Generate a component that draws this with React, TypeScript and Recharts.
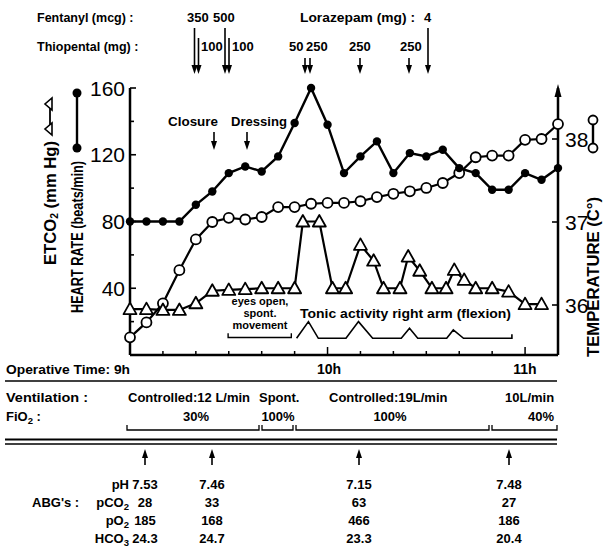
import React from 'react';
import { ComposedChart, Line, XAxis, YAxis } from 'recharts';

const FONT = "'Liberation Sans', Arial, Helvetica, sans-serif";

// minutes after 9h
const hrTimes = [0, 5, 10, 15, 20, 25, 30, 35, 40, 45, 50, 55, 60, 65, 70, 75, 80, 85, 90, 95, 100, 105, 110, 115, 120, 125, 130];
const heartRate = [80, 80, 80, 80, 90, 98, 109, 113, 110, 119, 139, 160, 138, 109, 119, 128, 109, 121, 119, 123, 112, 109, 99, 99, 109, 105, 112];

const tempTimes = [0, 5, 10, 15, 20, 25, 30, 35, 40, 45, 50, 55, 60, 65, 70, 75, 80, 85, 90, 95, 100, 105, 110, 115, 120, 125, 130];
const temperature = [35.61, 35.79, 36.02, 36.42, 36.79, 37.0, 37.05, 37.03, 37.06, 37.18, 37.18, 37.22, 37.23, 37.23, 37.25, 37.3, 37.34, 37.37, 37.41, 37.47, 37.59, 37.78, 37.8, 37.8, 37.99, 38.0, 38.18];

const etco2Times = [0, 5, 10, 15, 20, 25, 30, 35, 40, 45, 50, 52.5, 57.5, 61.5, 65.5, 70, 74, 77, 82, 84.5, 88, 91.7, 96, 98.5, 101.5, 105, 110, 115, 120, 125];
const etco2 = [27.5, 27.5, 27, 27, 31, 38.5, 39, 39.5, 40, 40, 40, 80, 80, 40, 40, 66, 56.5, 40, 40, 59, 50.5, 40, 40, 51, 45, 40, 40, 38, 30.5, 30.5];

// schematic of tonic activity (left axis units)
const tonicTimes = [50.6, 54.2, 57.2, 65.6, 69.4, 73.7, 82.4, 84.9, 87.4, 96.2, 98.2, 101.3, 116, 116];
const tonicLevel = [10, 20, 10, 10, 20, 10, 10, 16, 10, 10, 15, 10, 10, 12.5];
const eyesTimes = [29.8, 29.8, 49, 49];
const eyesLevel = [13, 10.5, 10.5, 13];

const timeTicks = [0, 5, 10, 15, 20, 25, 30, 35, 40, 45, 50, 55, 60, 65, 70, 75, 80, 85, 90, 95, 100, 105, 110, 115, 120, 125, 130];
const leftTicks = [20, 40, 60, 80, 100, 120, 140, 160];
const rightTicks = [36, 37, 38];

const ventilation = [
  { x: 128, text: 'Controlled:12 L/min' },
  { x: 259, text: 'Spont.' },
  { x: 329, text: 'Controlled:19L/min' },
  { x: 505, text: '10L/min' },
];
const fio2 = [
  { x: 196, text: '30%' },
  { x: 278, text: '100%' },
  { x: 390, text: '100%' },
  { x: 541, text: '40%' },
];
const brackets = [[127, 259], [262, 293], [296, 489], [492, 557]];
const abgX = [145, 212, 359, 509];
const ph = ['7.53', '7.46', '7.15', '7.48'];
const pco2 = ['28', '33', '63', '27'];
const po2 = ['185', '168', '466', '186'];
const hco3 = ['24.3', '24.7', '23.3', '20.4'];

const hrData = hrTimes.map((t, i) => ({ t, v: heartRate[i] }));
const tempData = tempTimes.map((t, i) => ({ t, v: temperature[i] }));
const etData = etco2Times.map((t, i) => ({ t, v: etco2[i] }));
const tonicData = tonicTimes.map((t, i) => ({ t, v: tonicLevel[i] }));
const eyesData = eyesTimes.map((t, i) => ({ t, v: eyesLevel[i] }));

const T = ({ x, y, children, anchor = 'start', size = 13, weight = 700, len }: any) => (
  <text
    x={x}
    y={y}
    textAnchor={anchor}
    fontSize={size}
    fontWeight={weight}
    fontFamily={FONT}
    fill="#000"
    textLength={len}
    lengthAdjust={len ? 'spacingAndGlyphs' : undefined}
  >
    {children}
  </text>
);

const Arrow = ({ x, y1, y2 }: any) => {
  const d = y2 > y1 ? 1 : -1;
  return (
    <g>
      <line x1={x} x2={x} y1={y1} y2={y2 - d * 7} stroke="#000" strokeWidth={1.6} />
      <polygon points={`${x},${y2} ${x - 3},${y2 - d * 9} ${x + 3},${y2 - d * 9}`} fill="#000" />
    </g>
  );
};

const Sub = ({ children }: any) => (
  <tspan fontSize={9.5} dy={3}>{children}</tspan>
);

const LeftTick = (props: any) => {
  const { x, y, payload } = props;
  const major = payload.value % 40 === 0;
  return (
    <g>
      <line x1={x} x2={x + (major ? 6 : 4)} y1={y} y2={y} stroke="#000" strokeWidth={1.6} />
      {major && (
        <text x={x - 5} y={y + 7.5} textAnchor="end" fontSize={21} fontFamily={FONT} fill="#000">
          {payload.value}
        </text>
      )}
    </g>
  );
};

const RightTick = (props: any) => {
  const { x, y, payload } = props;
  return (
    <g>
      <line x1={x - 6} x2={x} y1={y} y2={y} stroke="#000" strokeWidth={1.6} />
      <text x={x + 7} y={y + 7.5} textAnchor="start" fontSize={21} fontFamily={FONT} fill="#000">
        {payload.value}
      </text>
    </g>
  );
};

const TimeTick = (props: any) => {
  const { x, y, payload } = props;
  const hour = payload.value % 60 === 0;
  return <line x1={x} x2={x} y1={y} y2={y - (hour ? 8 : 4)} stroke="#000" strokeWidth={1.5} />;
};

const filledDot = (p: any) => (
  <circle key={`h${p.index}`} cx={p.cx} cy={p.cy} r={4.2} fill="#000" />
);
const openDot = (p: any) => (
  <circle key={`c${p.index}`} cx={p.cx} cy={p.cy} r={5} fill="#fff" stroke="#000" strokeWidth={1.8} />
);
const triDot = (p: any) => (
  <polygon
    key={`t${p.index}`}
    points={`${p.cx},${p.cy - 6.5} ${p.cx - 6.5},${p.cy + 5} ${p.cx + 6.5},${p.cy + 5}`}
    fill="#fff"
    stroke="#000"
    strokeWidth={1.8}
    strokeLinejoin="round"
  />
);

const VText = ({ cx, cy, len, children }: any) => (
  <g transform={`rotate(-90 ${cx} ${cy})`}>
    <text
      x={cx}
      y={cy}
      textAnchor="middle"
      dominantBaseline="central"
      fontSize={16}
      fontWeight={700}
      fontFamily={FONT}
      textLength={len}
      lengthAdjust="spacingAndGlyphs"
    >
      {children}
    </text>
  </g>
);

export default function App() {
  return (
    <div style={{ position: 'absolute', left: 0, top: 0, width: 609, height: 548, background: '#fff' }}>
      <ComposedChart width={609} height={548} margin={{ top: 88, right: 11, bottom: 163, left: 90 }}>
        <XAxis
          type="number"
          dataKey="t"
          domain={[0, 130]}
          ticks={timeTicks}
          tick={<TimeTick />}
          tickSize={0}
          tickMargin={0}
          tickLine={false}
          axisLine={{ stroke: '#000', strokeWidth: 2.5 }}
          height={30}
          allowDuplicatedCategory={false}
        />
        <YAxis
          yAxisId="left"
          type="number"
          domain={[0, 160]}
          ticks={leftTicks}
          tick={<LeftTick />}
          tickSize={0}
          tickMargin={0}
          tickLine={false}
          axisLine={{ stroke: '#000', strokeWidth: 2.5 }}
          width={40}
        />
        <YAxis
          yAxisId="right"
          orientation="right"
          type="number"
          domain={[35.3976, 38.6145]}
          ticks={rightTicks}
          tick={<RightTick />}
          tickSize={0}
          tickMargin={0}
          tickLine={false}
          axisLine={{ stroke: '#000', strokeWidth: 2.5 }}
          width={40}
        />
        <Line yAxisId="left" data={eyesData} dataKey="v" stroke="#000" strokeWidth={1.4} dot={false} isAnimationActive={false} />
        <Line yAxisId="left" data={tonicData} dataKey="v" stroke="#000" strokeWidth={1.6} dot={false} isAnimationActive={false} />
        <Line yAxisId="right" data={tempData} dataKey="v" stroke="#000" strokeWidth={2.2} dot={openDot} isAnimationActive={false} />
        <Line yAxisId="left" data={etData} dataKey="v" stroke="#000" strokeWidth={2.2} dot={triDot} isAnimationActive={false} />
        <Line yAxisId="left" data={hrData} dataKey="v" stroke="#000" strokeWidth={2.4} dot={filledDot} isAnimationActive={false} />
      </ComposedChart>

      <svg width={609} height={548} style={{ position: 'absolute', left: 0, top: 0, pointerEvents: 'none' }}>
        {/* drugs */}
        <T x={37} y={22} size={12.5}>Fentanyl (mcg) :</T>
        <T x={187} y={22} size={13}>350</T>
        <T x={213} y={22} size={13}>500</T>
        <T x={300} y={22} size={12.5} len={115}>Lorazepam (mg) :</T>
        <T x={424} y={22} size={13}>4</T>
        <T x={37} y={51} size={12.5}>Thiopental (mg) :</T>
        <T x={201} y={51} size={13}>100</T>
        <T x={232} y={51} size={13}>100</T>
        <T x={289} y={51} size={13}>50</T>
        <T x={306} y={51} size={13}>250</T>
        <T x={349} y={51} size={13}>250</T>
        <T x={400} y={51} size={13}>250</T>
        <Arrow x={194.5} y1={28} y2={74} />
        <Arrow x={198.5} y1={38} y2={74} />
        <Arrow x={225} y1={28} y2={74} />
        <Arrow x={229} y1={38} y2={74} />
        <Arrow x={305} y1={58} y2={74} />
        <Arrow x={310} y1={58} y2={74} />
        <Arrow x={360} y1={58} y2={74} />
        <Arrow x={409} y1={58} y2={74} />
        <Arrow x={428} y1={28} y2={74} />

        {/* right axis arrow */}
        <polygon points="558,84 554.5,97 561.5,97" fill="#000" />

        {/* events */}
        <T x={168} y={126} len={50}>Closure</T>
        <T x={231} y={126} len={56}>Dressing</T>
        <Arrow x={214} y1={132} y2={150} />
        <Arrow x={247} y1={132} y2={150} />
        <T x={260} y={305} anchor="middle" size={11}>eyes open,</T>
        <T x={260} y={317} anchor="middle" size={11}>spont.</T>
        <T x={260} y={329} anchor="middle" size={11}>movement</T>
        <T x={300} y={318} size={13} len={211}>Tonic activity right arm (flexion)</T>

        {/* axis titles */}
        <VText cx={50} cy={203} len={124}>
          ETCO<tspan fontSize={10} dy={4}>2</tspan><tspan dy={-4}> (mm Hg)</tspan>
        </VText>
        <line x1={50} x2={50} y1={106} y2={131} stroke="#000" strokeWidth={1.8} />
        <polygon points="44,106 56,106 50,99" transform="rotate(-90 50 104)" fill="#fff" stroke="#000" strokeWidth={1.6} />
        <polygon points="44,131 56,131 50,124" transform="rotate(-90 50 129)" fill="#fff" stroke="#000" strokeWidth={1.6} />

        <VText cx={77} cy={237} len={152}>HEART RATE  (beats/min)</VText>
        <line x1={77} x2={77} y1={93} y2={148} stroke="#000" strokeWidth={2.4} />
        <circle cx={77} cy={93} r={4.5} fill="#000" />
        <circle cx={77} cy={148} r={4.5} fill="#000" />

        <VText cx={593} cy={277} len={160}>TEMPERATURE (C°)</VText>
        <line x1={593} x2={593} y1={120} y2={148} stroke="#000" strokeWidth={2.4} />
        <circle cx={593} cy={120} r={4.5} fill="#fff" stroke="#000" strokeWidth={1.8} />
        <circle cx={593} cy={148} r={4.5} fill="#fff" stroke="#000" strokeWidth={1.8} />

        {/* time axis */}
        <T x={6} y={374} size={13.5} len={124}>Operative Time: 9h</T>
        <T x={329} y={374} size={14} anchor="middle">10h</T>
        <T x={525} y={374} size={14} anchor="middle">11h</T>
        <line x1={5} x2={557} y1={381} y2={381} stroke="#000" strokeWidth={1.6} />

        {/* ventilation */}
        <T x={6} y={402} len={82}>Ventilation :</T>
        {ventilation.map((v) => (
          <T key={v.x} x={v.x} y={402}>{v.text}</T>
        ))}
        <T x={6} y={421}>FiO<Sub>2</Sub><tspan dy={-3}> :</tspan></T>
        {fio2.map((v) => (
          <T key={v.x} x={v.x} y={421} anchor="middle">{v.text}</T>
        ))}
        {brackets.map(([a, b]) => (
          <polyline key={a} points={`${a},425 ${a},430 ${b},430 ${b},425`} fill="none" stroke="#000" strokeWidth={1.3} />
        ))}
        <line x1={5} x2={557} y1={439.5} y2={439.5} stroke="#000" strokeWidth={1.8} />
        <line x1={5} x2={557} y1={444} y2={444} stroke="#000" strokeWidth={1.4} />

        {/* ABGs */}
        {abgX.map((x) => (
          <Arrow key={x} x={x} y1={465} y2={449} />
        ))}
        <T x={129} y={489} anchor="end">pH</T>
        <T x={32} y={507}>ABG's :</T>
        <T x={129} y={507} anchor="end">pCO<Sub>2</Sub></T>
        <T x={129} y={525} anchor="end">pO<Sub>2</Sub></T>
        <T x={129} y={543} anchor="end">HCO<Sub>3</Sub></T>
        {abgX.map((x, i) => (
          <g key={`v${x}`}>
            <T x={x} y={489} anchor="middle">{ph[i]}</T>
            <T x={x} y={507} anchor="middle">{pco2[i]}</T>
            <T x={x} y={525} anchor="middle">{po2[i]}</T>
            <T x={x} y={543} anchor="middle">{hco3[i]}</T>
          </g>
        ))}
      </svg>
    </div>
  );
}
